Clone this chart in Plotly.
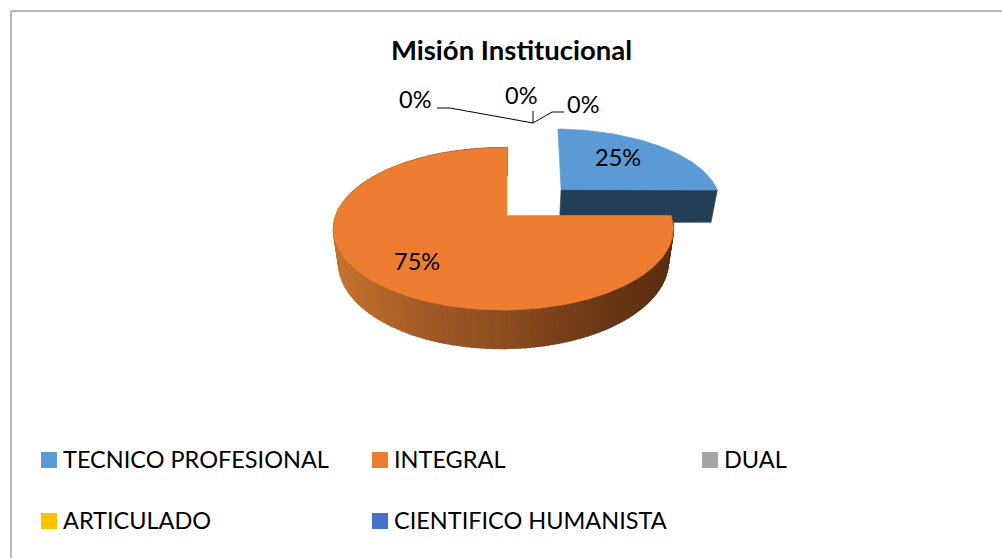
import math
import plotly.graph_objects as go

title = "Misión Institucional"
categories = ["TECNICO PROFESIONAL", "INTEGRAL", "DUAL", "ARTICULADO", "CIENTIFICO HUMANISTA"]
values = [25, 75, 0, 0, 0]
colors = ["#5b9bd5", "#ed7d31", "#a5a5a5", "#ffc000", "#4472c4"]
exploded = [True, False, False, False, False]

FONT = "Lato"
FS = 23.5
TITLE_FS = 27.5
W, H = 1002, 558
# projection of the tilted pie
AX, AY, RX, RY, K, M, EXPLODE, TAPER = 507, 215.5, 167.5, 78.9, 0.1655, 0.0208, 0.495, 0.03
DEPTH_MAIN, DEPTH_EXPLODED = 32, 35
EX_WIDEN, EX_SHEAR, EX_SHIFT = 1.02, 0.03, -0.006


def project(u, v, z=0.0, depth=DEPTH_MAIN):
    w = 1 + K * v + M * u
    return (AX + RX * u / w * (1 - TAPER * z), AY - RY * v / w + depth * z / w)


def lerp_hex(stops, t):
    t = max(0, min(1, t)) * (len(stops) - 1)
    i = min(int(t), len(stops) - 2)
    f = t - i
    a = [int(stops[i][j:j + 2], 16) for j in (1, 3, 5)]
    b = [int(stops[i + 1][j:j + 2], 16) for j in (1, 3, 5)]
    return "#%02x%02x%02x" % tuple(round(x + (y - x) * f) for x, y in zip(a, b))


ORANGE_WALL = ["#c2722f", "#a35a26", "#8b4c20", "#6e3a17", "#5a2e10"]
BLUE_WALL = "#233f58"

fig = go.Figure()


def poly(points, color, name=None, lw=0.6):
    fig.add_trace(go.Scatter(
        x=[p[0] for p in points] + [points[0][0]],
        y=[p[1] for p in points] + [points[0][1]],
        mode="lines", fill="toself", fillcolor=color,
        line=dict(color=color, width=lw),
        hoverinfo="skip", showlegend=False, name=name,
    ))


total = sum(values)
start = 0.0
slices = []
for name, val, col, ex in zip(categories, values, colors, exploded):
    sweep = 2 * math.pi * val / total
    slices.append((name, start, start + sweep, col, ex))
    start += sweep

# exploded slices first: they sit behind the rest
for name, a0, a1, col, ex in sorted(slices, key=lambda s: not s[4]):
    if a1 <= a0:
        continue
    mid = (a0 + a1) / 2
    du = EXPLODE * math.sin(mid) + EX_SHIFT if ex else 0
    dv = EXPLODE * math.cos(mid) if ex else 0
    n = max(4, int((a1 - a0) * 40))
    angs = [a0 + (a1 - a0) * i / n for i in range(n + 1)]
    if ex:
        rim = [(du + EX_WIDEN * math.sin(a) + EX_SHEAR * math.cos(a), dv + math.cos(a)) for a in angs]
        # cut face toward the viewer
        poly([project(du, dv, 0), project(*rim[-1], 0), project(*rim[-1], 1, DEPTH_EXPLODED),
              project(du, dv, 1, DEPTH_EXPLODED)], BLUE_WALL)
    else:
        rim = [(math.sin(a), math.cos(a)) for a in angs]
        for i in range(n):
            pts = [project(*rim[i], 0), project(*rim[i + 1], 0), project(*rim[i + 1], 1), project(*rim[i], 1)]
            xm = (pts[0][0] + pts[1][0]) / 2
            poly(pts, lerp_hex(ORANGE_WALL, (xm - (AX - RX)) / (2 * RX)), lw=1.5)
    poly([project(du, dv)] + [project(u, v) for u, v in rim], col, name)

# legend swatches
LEG_X = [49, 380, 710, 49, 380]
LEG_Y = [460, 460, 460, 521, 521]
LEG_TEXT_DX = 12
TEXT_DY = -1
fig.add_trace(go.Scatter(
    x=LEG_X, y=LEG_Y, mode="markers",
    marker=dict(symbol="square", size=16, color=colors, line=dict(width=0)),
    hoverinfo="skip", showlegend=False,
))

annotations = [dict(x=511, y=50 + TEXT_DY, text="<b>%s</b>" % title, showarrow=False,
                    font=dict(family=FONT, size=TITLE_FS, color="#000000"))]
for name, x, y in zip(categories, LEG_X, LEG_Y):
    annotations.append(dict(x=x + LEG_TEXT_DX, y=y + TEXT_DY, text=name, showarrow=False, xanchor="left",
                            font=dict(family=FONT, size=FS, color="#000000")))
LABEL_X = [618, 417, 415, 521, 583]
LABEL_Y = [158, 262, 100, 96, 105]
for val, x, y in zip(values, LABEL_X, LABEL_Y):
    annotations.append(dict(x=x, y=y + TEXT_DY, text="%d%%" % round(100 * val / total), showarrow=False,
                            font=dict(family=FONT, size=FS, color="#000000")))

line = dict(color="#000000", width=1)
frame = dict(color="#a0a0a0", width=1.5)
shapes = [
    dict(type="line", x0=11, y0=11, x1=W, y1=11, line=frame, layer="below"),
    dict(type="line", x0=11, y0=11, x1=11, y1=H, line=frame, layer="below"),
    dict(type="path", path="M437,108 L450,108 L533,123 L533,111", line=line),
    dict(type="path", path="M533,123 L552,112 L564,112", line=line),
]

fig.update_layout(
    width=W, height=H, margin=dict(l=0, r=0, t=0, b=0),
    paper_bgcolor="#ffffff", plot_bgcolor="#ffffff", showlegend=False,
    xaxis=dict(range=[0, W], visible=False, fixedrange=True),
    yaxis=dict(range=[H, 0], visible=False, fixedrange=True),
    annotations=annotations, shapes=shapes,
)
fig.write_html("out.html", config=dict(displayModeBar=False),
               post_script="document.documentElement.style.overflow='hidden';document.body.style.margin='0';")
